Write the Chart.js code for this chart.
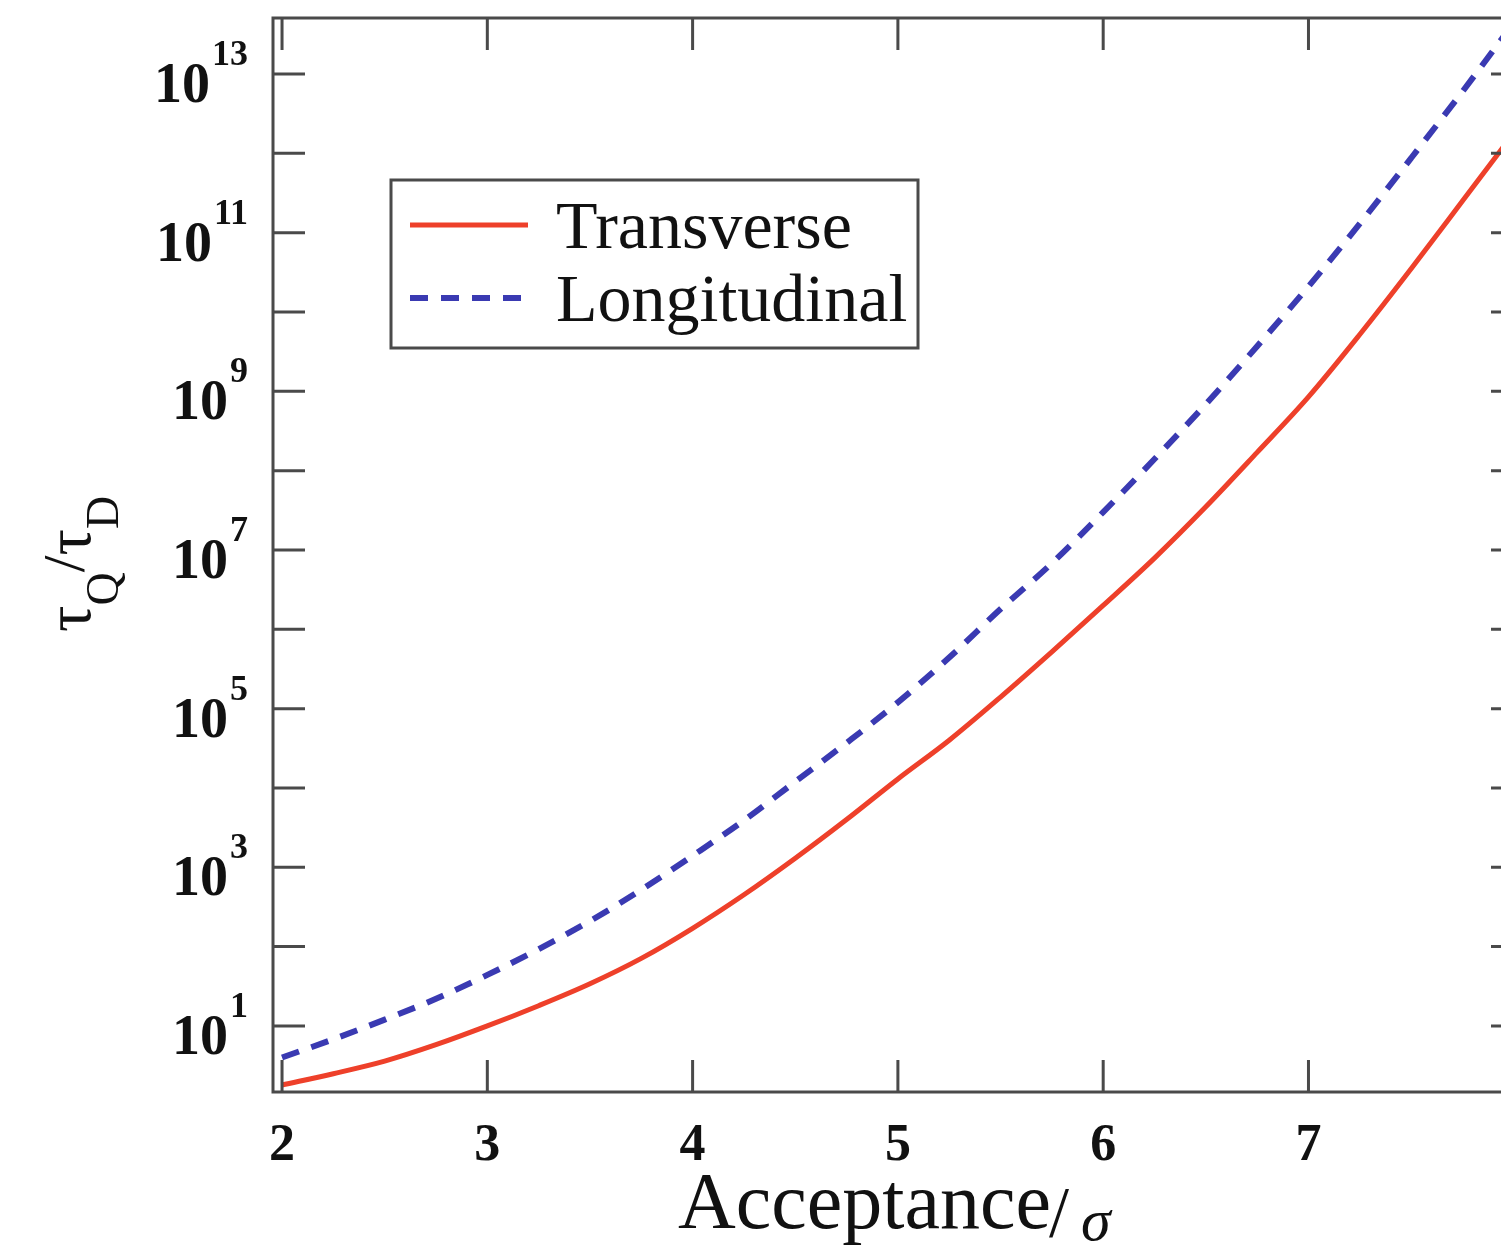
<!DOCTYPE html>
<html>
<head>
<meta charset="utf-8">
<title>Lifetime ratio vs acceptance</title>
<script src="https://cdn.jsdelivr.net/npm/chart.js@4.4.1/dist/chart.umd.min.js"></script>
<style>
  html, body { margin: 0; padding: 0; background: #fff; overflow: hidden; }
  #wrap { width: 1530px; height: 1246px; }
</style>
</head>
<body>
<div id="wrap"><canvas id="chart" width="1530" height="1246"></canvas></div>
<script>
// values (acceptance in sigma, ratio tau_Q / tau_D)
const acceptance = [2, 2.25, 2.5, 2.75, 3, 3.25, 3.5, 3.75, 4, 4.25, 4.5, 4.75, 5,
  5.25, 5.5, 5.75, 6, 6.25, 6.5, 6.75, 7, 7.25, 7.5, 7.75, 8];
const transverse = [1.8, 2.5, 3.6, 5.8, 10, 18, 34, 71, 170, 450, 1.3e3, 4.0e3, 1.3e4,
  4.0e4, 1.4e5, 5.2e5, 2.0e6, 7.9e6, 3.5e7, 1.7e8, 8.5e8, 5.2e9, 3.5e10, 2.5e11, 1.8e12];
const longitudinal = [4.0, 6.8, 12, 22, 44, 93, 210, 520, 1.4e3, 3.9e3, 1.2e4, 3.7e4, 1.2e5,
  4.4e5, 1.8e6, 6.8e6, 3.0e7, 1.4e8, 6.9e8, 3.7e9, 2.1e10, 1.3e11, 8.7e11, 6.0e12, 4.4e13];

const seriesNames = ["Transverse", "Longitudinal"];
const xTicks = [2, 3, 4, 5, 6, 7, 8];
const yTickExponents = [1, 2, 3, 4, 5, 6, 7, 8, 9, 10, 11, 12, 13];
const yLabelExponents = [1, 3, 5, 7, 9, 11, 13];

const SERIF = "'Liberation Serif', 'Times New Roman', serif";
const AXIS = "#4a4a4a";

function toPoints(ys) {
  return acceptance.map((x, i) => ({ x: x, y: ys[i] }));
}

// frame, inward ticks, labels, titles and the boxed legend
const decorPlugin = {
  id: "decor",
  afterDatasetsDraw(chart) {
    const ctx = chart.ctx;
    const a = chart.chartArea;
    const xs = chart.scales.x;
    const ys = chart.scales.y;
    const tick = 32;

    ctx.save();
    ctx.strokeStyle = AXIS;
    ctx.lineWidth = 3;
    ctx.strokeRect(a.left, a.top, a.right - a.left, a.bottom - a.top);

    ctx.beginPath();
    yTickExponents.forEach((e) => {
      const py = ys.getPixelForValue(Math.pow(10, e));
      ctx.moveTo(a.left, py); ctx.lineTo(a.left + tick, py);
      ctx.moveTo(a.right, py); ctx.lineTo(a.right - tick, py);
    });
    xTicks.forEach((v) => {
      const px = xs.getPixelForValue(v);
      ctx.moveTo(px, a.bottom); ctx.lineTo(px, a.bottom - tick);
      ctx.moveTo(px, a.top); ctx.lineTo(px, a.top + tick);
    });
    ctx.stroke();

    // y tick labels 10^n
    ctx.fillStyle = "#111";
    ctx.textBaseline = "alphabetic";
    yLabelExponents.forEach((e) => {
      const py = ys.getPixelForValue(Math.pow(10, e));
      ctx.font = "bold 36px " + SERIF;
      ctx.textAlign = "right";
      const ew = ctx.measureText(String(e)).width;
      ctx.fillText(String(e), 248, py - 9);
      ctx.font = "bold 56px " + SERIF;
      ctx.fillText("10", 248 - ew - 2, py + 28);
    });

    // x tick labels
    ctx.font = "bold 52px " + SERIF;
    ctx.textAlign = "center";
    xTicks.forEach((v) => {
      ctx.fillText(String(v), xs.getPixelForValue(v), 1160);
    });

    // x title
    ctx.textAlign = "left";
    ctx.font = "80px " + SERIF;
    ctx.fillText("Acceptance", 678, 1228);
    const tw = ctx.measureText("Acceptance").width;
    ctx.font = "72px " + SERIF;
    ctx.fillText("/", 678 + tw - 2, 1236);
    ctx.font = "italic 60px " + SERIF;
    ctx.fillText("σ", 678 + tw + 30, 1240);

    // y title, rotated
    ctx.save();
    ctx.translate(90, 632);
    ctx.rotate(-Math.PI / 2);
    let cx = 0;
    const part = (txt, font, dy) => {
      ctx.font = font;
      ctx.fillText(txt, cx, dy);
      cx += ctx.measureText(txt).width;
    };
    part("τ", "66px " + SERIF, 0);
    part("Q", "46px " + SERIF, 28);
    part("/", "60px " + SERIF, -6);
    part("τ", "66px " + SERIF, 0);
    part("D", "46px " + SERIF, 28);
    ctx.restore();

    // legend
    ctx.fillStyle = "#fff";
    ctx.fillRect(391, 180, 527, 168);
    ctx.strokeStyle = AXIS;
    ctx.lineWidth = 3;
    ctx.strokeRect(391, 180, 527, 168);
    const rows = [225, 298];
    chart.data.datasets.forEach((ds, i) => {
      ctx.strokeStyle = ds.borderColor;
      ctx.lineWidth = ds.borderWidth;
      ctx.setLineDash(ds.borderDash || []);
      ctx.beginPath();
      ctx.moveTo(410, rows[i]);
      ctx.lineTo(528, rows[i]);
      ctx.stroke();
      ctx.setLineDash([]);
      ctx.fillStyle = "#111";
      ctx.font = "68px " + SERIF;
      ctx.textAlign = "left";
      ctx.fillText(ds.label, 556, rows[i] + 23);
    });
    ctx.restore();
  }
};

new Chart(document.getElementById("chart"), {
  type: "line",
  data: {
    datasets: [
      {
        label: seriesNames[0],
        data: toPoints(transverse),
        borderColor: "rgb(238, 64, 42)",
        borderWidth: 5,
        pointRadius: 0,
        cubicInterpolationMode: "monotone",
        fill: false,
      },
      {
        label: seriesNames[1],
        data: toPoints(longitudinal),
        borderColor: "rgb(58, 58, 178)",
        borderWidth: 6,
        borderDash: [18, 13],
        pointRadius: 0,
        cubicInterpolationMode: "monotone",
        fill: false,
      },
    ],
  },
  options: {
    responsive: false,
    animation: false,
    devicePixelRatio: 1,
    layout: { padding: { left: 0, top: 18, right: 7, bottom: 0 } },
    plugins: { legend: { display: false }, tooltip: { enabled: false } },
    scales: {
      x: {
        type: "linear",
        min: 1.956,
        max: 8.045,
        grid: { display: false },
        border: { display: false },
        ticks: { display: false },
        afterFit(s) { s.height = 154; },
      },
      y: {
        type: "logarithmic",
        min: 1.47,
        max: 5.08e13,
        grid: { display: false },
        border: { display: false },
        ticks: { display: false },
        afterFit(s) { s.width = 273; },
      },
    },
  },
  plugins: [decorPlugin],
});
</script>
</body>
</html>
